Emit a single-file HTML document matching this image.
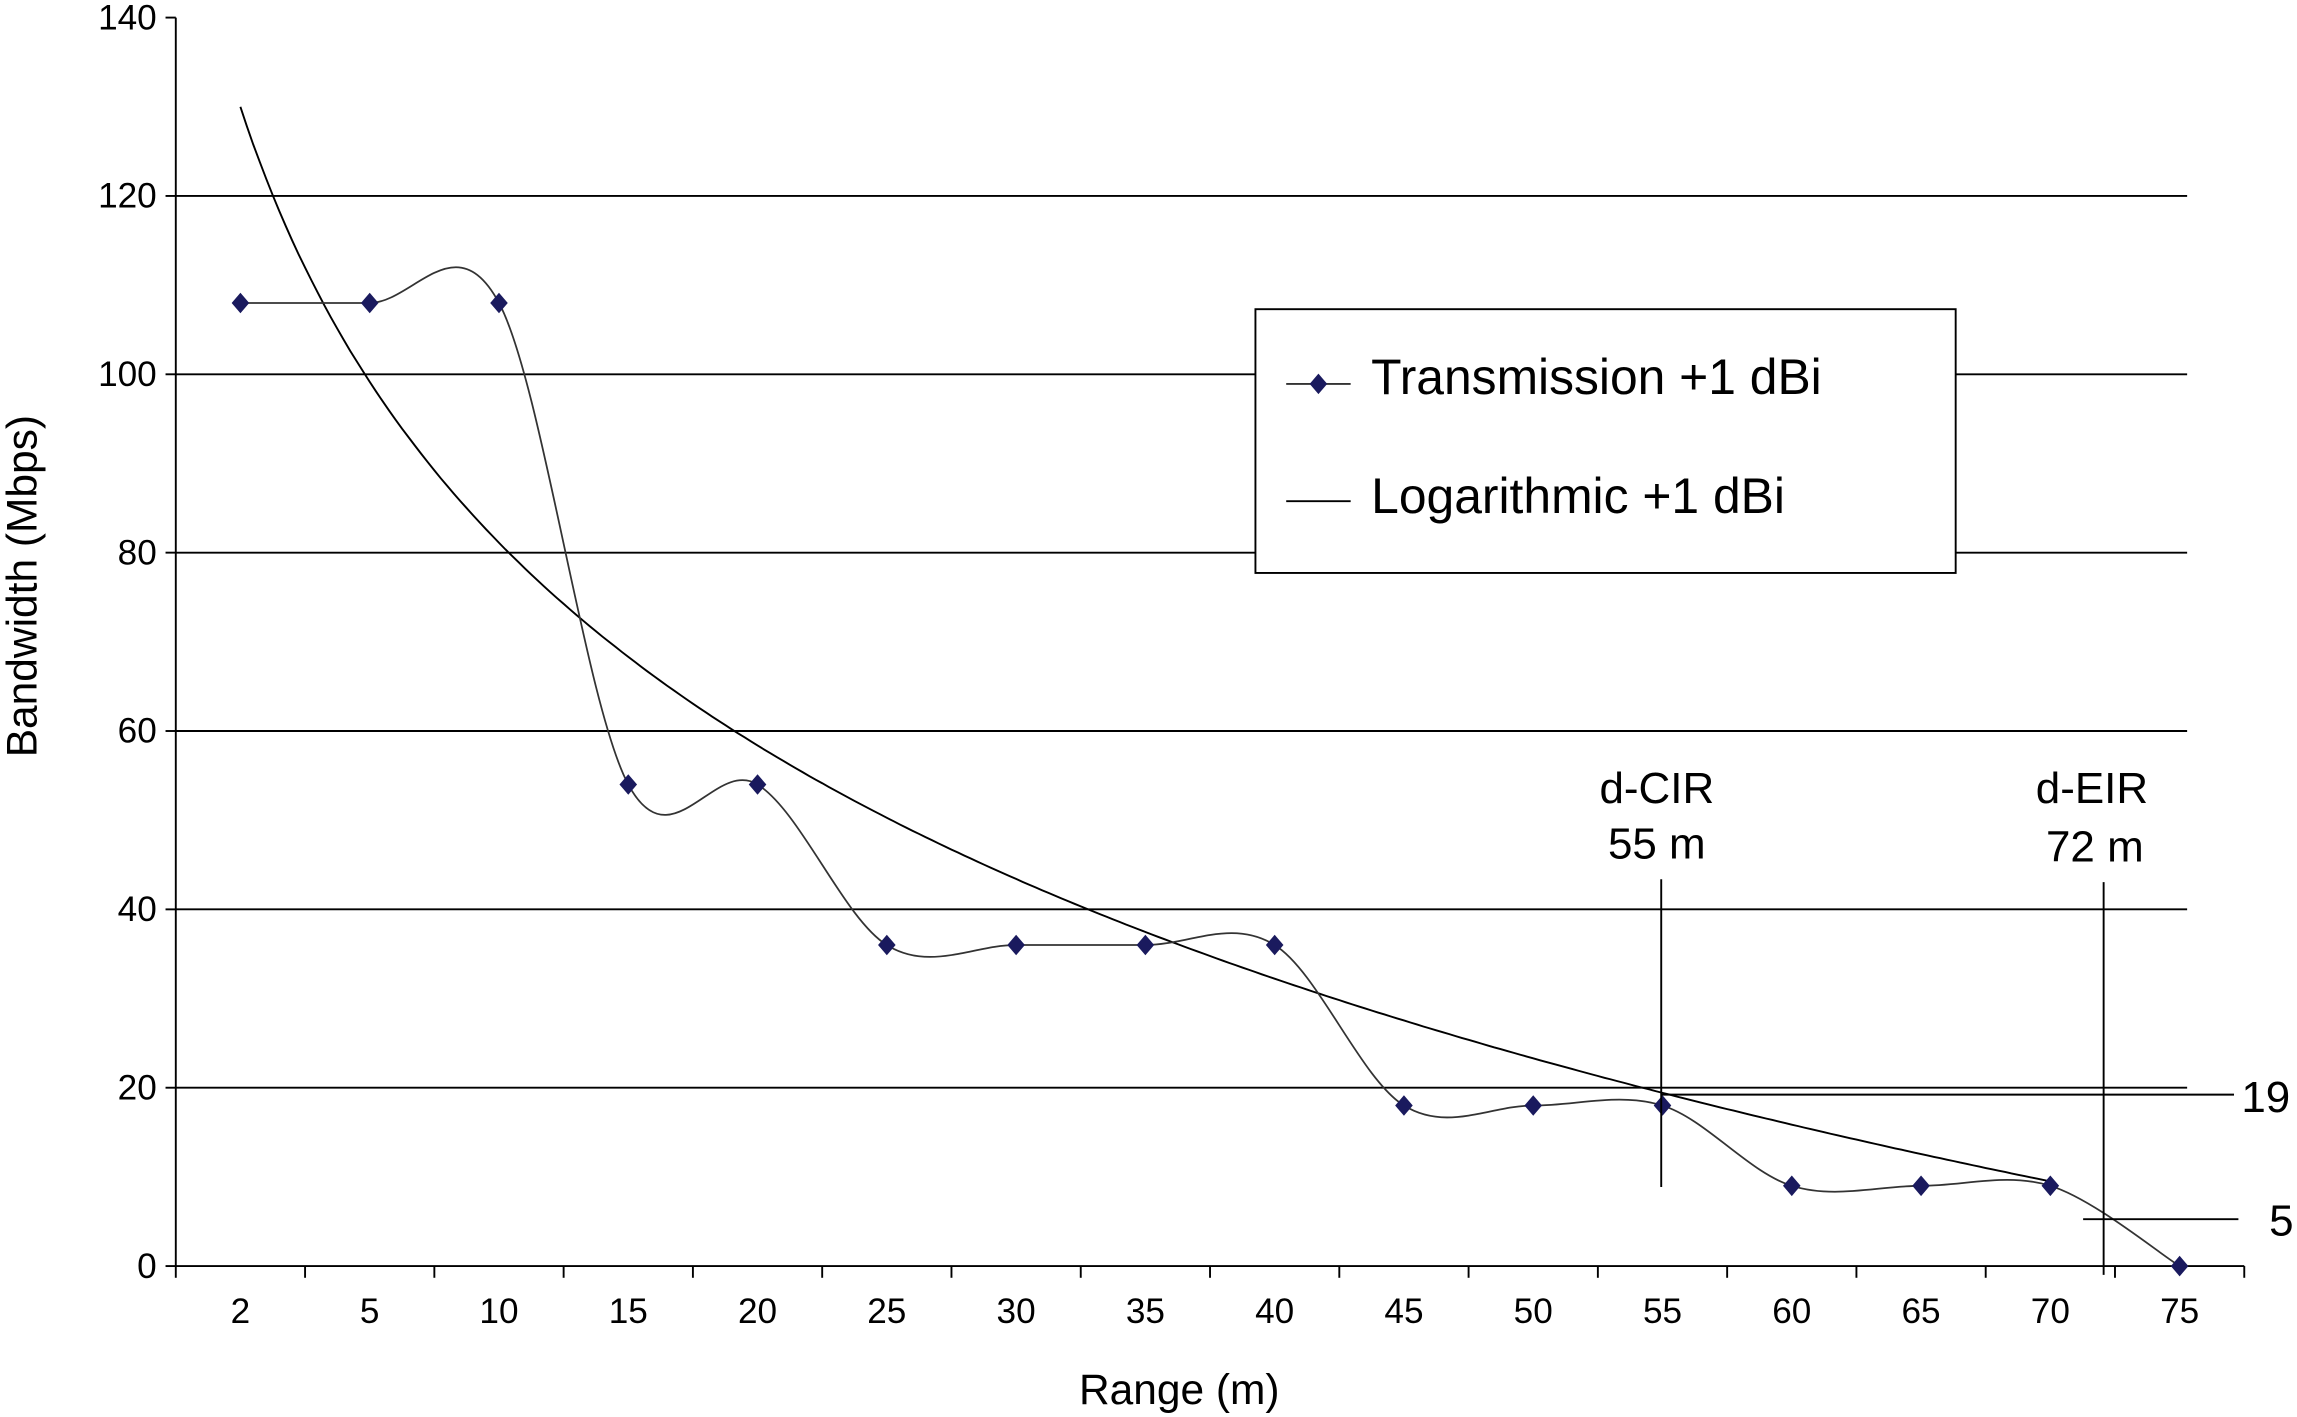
<!DOCTYPE html>
<html><head><meta charset="utf-8"><style>
html,body{margin:0;padding:0;background:#fff;}
svg{display:block;font-family:"Liberation Sans",Arial,sans-serif;}
</style></head><body>
<svg id="chart" width="2297" height="1417" viewBox="0 0 1568 967" preserveAspectRatio="none" xmlns="http://www.w3.org/2000/svg">
<g id="grid"></g>
<g id="axes"></g>
<g id="marks"></g>
<g id="annot"></g>
<text x="805" y="958" font-size="29" text-anchor="middle">Range (m)</text>
<text transform="translate(25,400) rotate(-90)" font-size="29" text-anchor="middle">Bandwidth (Mbps)</text>
<g>
<rect x="857" y="211" width="478" height="180" fill="#fff" stroke="#000" stroke-width="1.3"/>
<line x1="878" y1="262" x2="922" y2="262" stroke="#333" stroke-width="1.3"/>
<path d="M900 255 L906 262 L900 269 L894 262 Z" fill="#1a1a5e"/>
<text x="936" y="269" font-size="34">Transmission +1 dBi</text>
<line x1="878" y1="342" x2="922" y2="342" stroke="#000" stroke-width="1.3"/>
<text x="936" y="350" font-size="34">Logarithmic +1 dBi</text>
</g>
</svg>
<script>
const categories = ["2","5","10","15","20","25","30","35","40","45","50","55","60","65","70","75"];
const transmission = [108,108,108,54,54,36,36,36,36,18,18,18,9,9,9,0];
const yTicks = [0,20,40,60,80,100,120,140];
const trendA = 130;
const trendB = 44.5;
const trendCount = 15;

const NS="http://www.w3.org/2000/svg";
const x0=120, catW=88.25, yBase=864, yTop=12, yMax=140;
function xs(i){return x0+catW/2+catW*i;}
function ys(v){return yBase-(v/yMax)*(yBase-yTop);}
function mk(tag,attrs,parent){const e=document.createElementNS(NS,tag);for(const k in attrs)e.setAttribute(k,attrs[k]);parent.appendChild(e);return e;}
const grid=document.getElementById('grid'),axes=document.getElementById('axes'),marks=document.getElementById('marks'),annot=document.getElementById('annot');

yTicks.forEach(t=>{
  if(t>0&&t<140){const l=mk('line',{x1:x0,x2:1493,y1:ys(t),y2:ys(t),stroke:'#000','stroke-width':1.3},grid);
  
  }
  const tk=mk('line',{x1:x0-7,x2:x0,y1:ys(t),y2:ys(t),stroke:'#000','stroke-width':1.3},axes);
  
  
  const tx=mk('text',{x:x0-13,y:ys(t)+8,'font-size':24,'text-anchor':'end'},axes);tx.textContent=t;
  
  
});
let a=mk('line',{x1:x0,x2:x0,y1:yTop,y2:yBase,stroke:'#000','stroke-width':1.3},axes);


a=mk('line',{x1:x0,x2:x0+catW*categories.length,y1:yBase,y2:yBase,stroke:'#000','stroke-width':1.3},axes);


for(let i=0;i<=categories.length;i++){
  const t=mk('line',{x1:x0+catW*i,x2:x0+catW*i,y1:yBase,y2:yBase+8,stroke:'#000','stroke-width':1.3},axes);
  
  
}
categories.forEach((c,i)=>{
  const t=mk('text',{x:xs(i),y:903,'font-size':24,'text-anchor':'middle'},axes);t.textContent=c;
  
  
});

let td='';
for(let k=0;k<=280;k++){const u=k/280*(trendCount-1);const v=trendA-trendB*Math.log(u+1);td+=(k?'L':'M')+xs(u).toFixed(1)+' '+ys(v).toFixed(1);}
let tp=mk('path',{d:td,fill:'none',stroke:'#000','stroke-width':1.3},marks);



const pts=transmission.map((v,i)=>[xs(i),ys(v)]);
let d='M'+pts[0][0]+' '+pts[0][1];
for(let i=0;i<pts.length-1;i++){
  const p0=pts[Math.max(i-1,0)],p1=pts[i],p2=pts[i+1],p3=pts[Math.min(i+2,pts.length-1)];
  const s=1/6;
  d+=` C${p1[0]+(p2[0]-p0[0])*s} ${p1[1]+(p2[1]-p0[1])*s} ${p2[0]-(p3[0]-p1[0])*s} ${p2[1]-(p3[1]-p1[1])*s} ${p2[0]} ${p2[1]}`;
}
let sp=mk('path',{d:d,fill:'none',stroke:'#333','stroke-width':1.2},marks);


pts.forEach((p,i)=>{
  const m=mk('path',{d:`M${p[0]} ${p[1]-7}L${p[0]+6} ${p[1]}L${p[0]} ${p[1]+7}L${p[0]-6} ${p[1]}Z`,fill:'#1a1a5e'},marks);
  
  
});

function ln(x1,y1,x2,y2,name){const l=mk('line',{x1,y1,x2,y2,stroke:'#000','stroke-width':1.3},annot);}
function tx(x,y,s,size,anchor,name){const t=mk('text',{x,y,'font-size':size,'text-anchor':anchor},annot);t.textContent=s;}
ln(1134,600,1134,810,'d-cir-marker');
ln(1436,602,1436,870,'d-eir-marker');
ln(1134,747,1525,747,'level-19-line');
ln(1422,832,1528,832,'level-5-line');
tx(1131,548,'d-CIR',30,'middle','d-cir-label');
tx(1131,586,'55 m',30,'middle','d-cir-distance');
tx(1428,548,'d-EIR',30,'middle','d-eir-label');
tx(1430,588,'72 m',30,'middle','d-eir-distance');
tx(1530,759,'19',30,'start','level-19-label');
tx(1549,843,'5',30,'start','level-5-label');
</script>
</body></html>
